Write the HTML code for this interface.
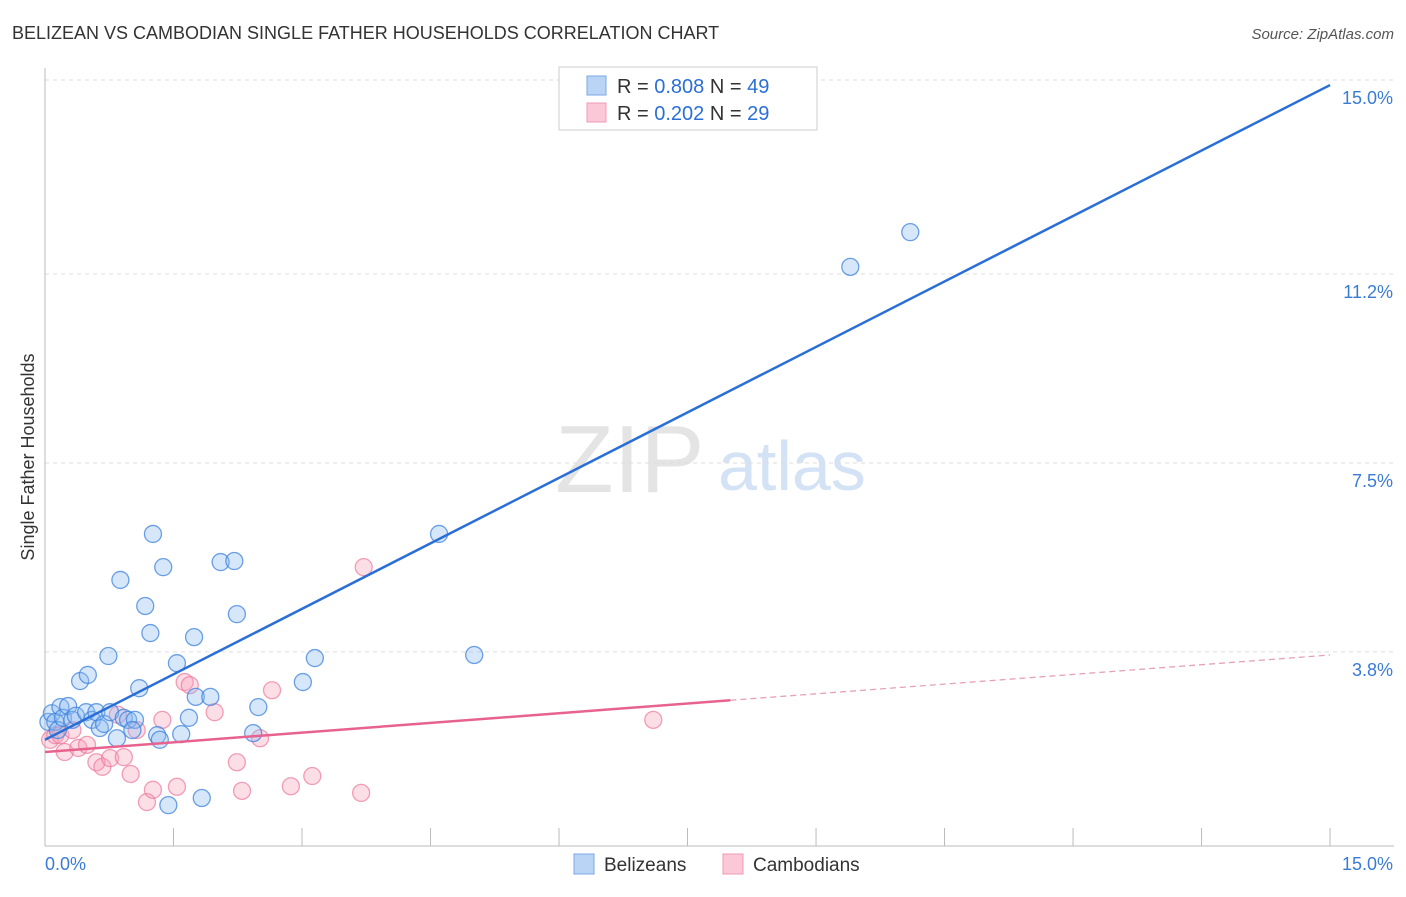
<!DOCTYPE html>
<html><head><meta charset="utf-8"><style>
body{margin:0;background:#fff;font-family:"Liberation Sans",sans-serif}
svg text{font-family:"Liberation Sans",sans-serif}
</style></head><body>
<svg id="c" width="1406" height="892">
<text x="12" y="39" font-size="18" fill="#333">BELIZEAN VS CAMBODIAN SINGLE FATHER HOUSEHOLDS CORRELATION CHART</text>
<text x="1394" y="39" font-size="15" fill="#555" font-style="italic" text-anchor="end">Source: ZipAtlas.com</text>
<text transform="translate(34,457) rotate(-90)" font-size="18" fill="#333" text-anchor="middle">Single Father Households</text>
<text x="555" y="492" font-size="96" fill="#e4e4e4" font-family="Liberation Serif">ZIP</text>
<text x="718" y="490" font-size="70" fill="#d4e2f5">atlas</text>
<g id="grid"></g><g id="pts"></g><g id="lines"></g>
<g>
<rect x="559" y="67" width="258" height="63" fill="#fff" stroke="#ccc"/>
<rect x="587" y="76" width="19" height="19" fill="#b9d4f5" stroke="#7aa8e6"/>
<rect x="587" y="103" width="19" height="19" fill="#fac8d6" stroke="#f09ab4"/>
<text x="617" y="93" font-size="20" fill="#333">R = <tspan fill="#2b6fd6">0.808</tspan>   N = <tspan fill="#2b6fd6">49</tspan></text>
<text x="617" y="120" font-size="20" fill="#333">R = <tspan fill="#2b6fd6">0.202</tspan>   N = <tspan fill="#2b6fd6">29</tspan></text>
</g>
<g>
<rect x="574" y="854" width="20" height="20" fill="#b9d4f5" stroke="#7aa8e6"/>
<text x="604" y="871" font-size="19" fill="#333">Belizeans</text>
<rect x="723" y="854" width="20" height="20" fill="#fac8d6" stroke="#f09ab4"/>
<text x="753" y="871" font-size="19" fill="#333">Cambodians</text>
</g>
</svg>
<script>
const blueX=[0.04,0.08,0.12,0.15,0.18,0.21,0.27,0.32,0.36,0.41,0.48,0.50,0.55,0.60,0.64,0.69,0.74,0.76,0.84,0.88,0.92,0.97,1.05,1.02,1.10,1.17,1.23,1.26,1.31,1.34,1.38,1.44,1.54,1.59,1.68,1.74,1.76,1.83,1.93,2.05,2.21,2.24,2.43,2.49,3.01,3.15,4.60,5.01,9.40,10.10];
const blueY=[2.43,2.60,2.43,2.27,2.72,2.51,2.74,2.47,2.55,3.23,2.62,3.35,2.47,2.62,2.31,2.39,3.72,2.62,2.11,5.21,2.51,2.47,2.47,2.27,3.09,4.70,4.17,6.11,2.17,2.08,5.46,0.80,3.58,2.19,2.51,4.09,2.92,0.94,2.92,5.56,5.58,4.54,2.21,2.72,3.21,3.68,6.11,3.74,11.34,12.02];
const pinkX=[0.06,0.12,0.18,0.23,0.32,0.39,0.49,0.60,0.67,0.76,0.85,0.92,1.00,1.07,1.19,1.26,1.37,1.54,1.63,1.69,1.98,2.24,2.30,2.51,2.65,2.87,3.12,3.69,3.72,7.10];
const pinkY=[2.08,2.17,2.17,1.84,2.27,1.92,1.98,1.64,1.55,1.72,2.57,1.74,1.41,2.27,0.86,1.10,2.47,1.16,3.21,3.15,2.62,1.64,1.08,2.11,3.05,1.17,1.37,1.04,5.46,2.47];
const blueFit=[2.08,14.9];
const pinkFit=[1.84,3.74];
const pinkSolidEnd=8.0;
const yTicks=[3.8,7.5,11.2,15.0];
const yTickLabels=["3.8%","7.5%","11.2%","15.0%"];
const xTickCount=11;
const NS="http://www.w3.org/2000/svg";
const X=v=>45+v*85.67, Y=v=>846-v*51.07;
function mk(t,a,p){const e=document.createElementNS(NS,t);for(const k in a)e.setAttribute(k,a[k]);p.appendChild(e);return e;}
const g=document.getElementById('grid');
yTicks.forEach((t,i)=>{
 const l=mk('line',{x1:45,x2:1394,y1:Y(t),y2:Y(t),stroke:'#ddd','stroke-dasharray':'4,4'},g);
 
 
 const tx=mk('text',{x:1393,y:Y(t)+24,'font-size':18,fill:'#3a7bd5','text-anchor':'end'},g);
 tx.textContent=yTickLabels[i];
 
 
});
const ax=mk('line',{x1:45,x2:45,y1:68,y2:846,stroke:'#bbb'},g);


const bx=mk('line',{x1:45,x2:1394,y1:846,y2:846,stroke:'#bbb'},g);


for(let i=0;i<xTickCount;i++){
 const xv=i*1.5;
 const t=mk('line',{x1:X(xv),x2:X(xv),y1:828,y2:846,stroke:'#bbb'},g);
 
 
}
const xl0=mk('text',{x:45,y:870,'font-size':18,fill:'#3a7bd5'},g);xl0.textContent='0.0%';


const xl1=mk('text',{x:1393,y:870,'font-size':18,fill:'#3a7bd5','text-anchor':'end'},g);xl1.textContent='15.0%';


const p=document.getElementById('pts');
pinkX.forEach((x,i)=>{const c=mk('circle',{cx:X(x),cy:Y(pinkY[i]),r:8.5,fill:'rgba(247,160,186,0.35)',stroke:'rgba(236,120,155,0.7)','stroke-width':1.3},p);
 
 });
blueX.forEach((x,i)=>{const c=mk('circle',{cx:X(x),cy:Y(blueY[i]),r:8.5,fill:'rgba(140,185,240,0.35)',stroke:'rgba(60,130,220,0.75)','stroke-width':1.3},p);
 
 });
const L=document.getElementById('lines');
const pf=x=>pinkFit[0]+(pinkFit[1]-pinkFit[0])*x/15;
const bl=mk('line',{x1:X(0),y1:Y(blueFit[0]),x2:X(15),y2:Y(blueFit[1]),stroke:'#2a6fd6','stroke-width':2.5},L);


const pl=mk('line',{x1:X(0),y1:Y(pf(0)),x2:X(pinkSolidEnd),y2:Y(pf(pinkSolidEnd)),stroke:'#e8628f','stroke-width':2.5},L);


const pd=mk('line',{x1:X(pinkSolidEnd),y1:Y(pf(pinkSolidEnd)),x2:X(15),y2:Y(pf(15)),stroke:'#e8a0b8','stroke-width':1.3,'stroke-dasharray':'6,4'},L);


</script>
</body></html>
